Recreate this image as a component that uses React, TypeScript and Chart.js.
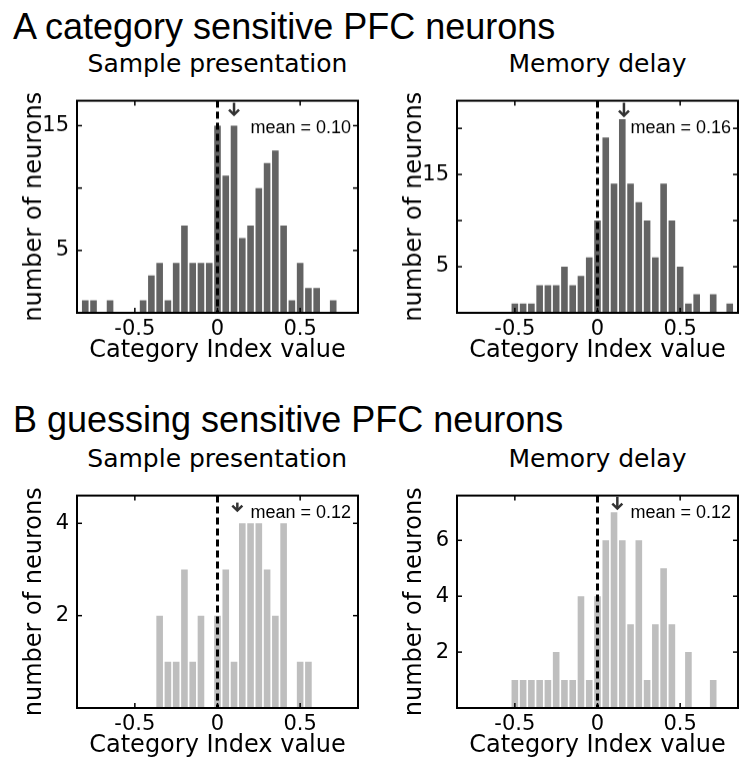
import React, { useEffect, useRef } from "react";
import { Chart, registerables } from "chart.js";

Chart.register(...registerables);

// ---------- data ----------
const binCenters = [
  -0.8, -0.75, -0.7, -0.65, -0.6, -0.55, -0.5, -0.45, -0.4, -0.35, -0.3, -0.25,
  -0.2, -0.15, -0.1, -0.05, 0, 0.05, 0.1, 0.15, 0.2, 0.25, 0.3, 0.35, 0.4, 0.45,
  0.5, 0.55, 0.6, 0.65, 0.7, 0.75, 0.8,
];

const categorySampleCounts = [
  1, 1, 0, 1, 0, 0, 0, 1, 3, 4, 1, 4, 7, 4, 4, 4, 15, 11, 15, 6, 7, 10, 12, 13, 7,
  1, 4, 2, 2, 0, 1, 0, 0,
];
const categoryDelayCounts = [
  0, 0, 0, 0, 0, 0, 1, 1, 1, 3, 3, 3, 5, 3, 4, 6, 10, 19, 14, 21, 14, 12, 10, 6,
  14, 10, 5, 1, 2, 0, 2, 0, 1,
];
const guessingSampleCounts = [
  0, 0, 0, 0, 0, 0, 0, 0, 0, 2, 1, 1, 3, 1, 2, 0, 2, 3, 1, 4, 4, 4, 3, 2, 4, 0, 1,
  1, 0, 0, 0, 0, 0,
];
const guessingDelayCounts = [
  0, 0, 0, 0, 0, 0, 1, 1, 1, 1, 1, 2, 1, 1, 4, 1, 4, 6, 7, 6, 3, 6, 1, 3, 5, 3, 0,
  2, 0, 0, 1, 0, 0,
];

const meanValues = [0.1, 0.16, 0.12, 0.12];

const xTickValues = [-0.5, 0, 0.5];
const categorySampleYTicks = [5, 10, 15];
const categorySampleYLabels = [5, 15];
const categoryDelayYTicks = [5, 10, 15, 20];
const categoryDelayYLabels = [5, 15];
const guessingSampleYTicks = [2, 4];
const guessingSampleYLabels = [2, 4];
const guessingDelayYTicks = [2, 4, 6];
const guessingDelayYLabels = [2, 4, 6];

const yMaxValues = [17, 23, 4.6, 7.6];

const sectionTitles = ["A category sensitive PFC neurons", "B guessing sensitive PFC neurons"];
const panelTitles = ["Sample presentation", "Memory delay"];
const xAxisTitle = "Category Index value";
const yAxisTitle = "number of neurons";

// ---------- styling ----------
const AXIS_FONT = "'DejaVu Sans', 'Liberation Sans', Arial, sans-serif";
const TITLE_FONT = "'Liberation Sans', Arial, sans-serif";
const DARK = "#636363";
const LIGHT = "#bebebe";

type Box = { l: number; r: number; t: number; b: number };

const framePlugin = {
  id: "matlabFrame",
  afterDatasetsDraw(chart: any, _args: any, opts: any) {
    const { ctx, chartArea } = chart;
    const { left, right, top, bottom } = chartArea;
    const xs = chart.scales.x;
    const ys = chart.scales.y;
    const line = (x1: number, y1: number, x2: number, y2: number) => {
      ctx.beginPath();
      ctx.moveTo(x1, y1);
      ctx.lineTo(x2, y2);
      ctx.stroke();
    };
    ctx.save();
    // dashed zero line
    const x0 = xs.getPixelForValue(0);
    ctx.strokeStyle = "#000";
    ctx.lineWidth = 3;
    ctx.setLineDash([7, 4]);
    line(x0, top, x0, bottom);
    ctx.setLineDash([]);
    // box
    ctx.lineWidth = 2;
    ctx.strokeRect(left, top, right - left, bottom - top);
    // inward ticks
    ctx.lineWidth = 1.5;
    xs.ticks.forEach((t: any) => {
      const px = xs.getPixelForValue(t.value);
      line(px, top, px, top + 5);
      line(px, bottom, px, bottom - 5);
    });
    ys.ticks.forEach((t: any) => {
      const py = ys.getPixelForValue(t.value);
      line(left, py, left + 5, py);
      line(right, py, right - 5, py);
    });
    // mean arrow
    const xm = xs.getPixelForValue(opts.mean);
    const a0 = top + opts.arrowStart;
    const a1 = top + opts.arrowEnd;
    ctx.strokeStyle = "#333";
    ctx.lineWidth = 2.5;
    line(xm, a0, xm, a1);
    ctx.beginPath();
    ctx.moveTo(xm - 5, a1 - 5);
    ctx.lineTo(xm, a1);
    ctx.lineTo(xm + 5, a1 - 5);
    ctx.stroke();
    // mean text
    ctx.fillStyle = "#000";
    ctx.font = `18px ${TITLE_FONT}`;
    ctx.textAlign = "right";
    ctx.textBaseline = "alphabetic";
    ctx.fillText(`mean = ${opts.mean.toFixed(2)}`, right - 7, top + opts.textBaseline);
    ctx.restore();
  },
};

type PanelProps = {
  counts: number[];
  color: string;
  yMax: number;
  yTicks: number[];
  yLabels: number[];
  mean: number;
  box: Box;
  textBaseline: number;
  arrowStart: number;
  arrowEnd: number;
};

const Y_AXIS_W = 77;
const X_AXIS_H = 54;
const PAD_TOP = 13;
const PAD_RIGHT = 4;

function HistPanel(p: PanelProps) {
  const ref = useRef<HTMLCanvasElement>(null);
  const cLeft = p.box.l - Y_AXIS_W;
  const cTop = p.box.t - PAD_TOP;
  const width = p.box.r + PAD_RIGHT - cLeft;
  const height = p.box.b + X_AXIS_H - cTop;

  useEffect(() => {
    if (!ref.current) return;
    const chart = new Chart(ref.current, {
      type: "bar",
      data: {
        datasets: [
          {
            data: binCenters.map((x, i) => ({ x, y: p.counts[i] })) as any,
            backgroundColor: p.color,
            borderWidth: 0,
            barPercentage: 0.8,
            categoryPercentage: 1,
          },
        ],
      },
      options: {
        animation: false,
        responsive: false,
        layout: { padding: { top: PAD_TOP, right: PAD_RIGHT, left: 0, bottom: 0 } },
        plugins: {
          legend: { display: false },
          tooltip: { enabled: false },
          matlabFrame: {
            mean: p.mean,
            textBaseline: p.textBaseline,
            arrowStart: p.arrowStart,
            arrowEnd: p.arrowEnd,
          },
        } as any,
        scales: {
          x: {
            type: "linear",
            min: -0.85,
            max: 0.85,
            offset: false,
            grid: { display: false, drawTicks: false },
            border: { display: false },
            afterBuildTicks: (s: any) => {
              s.ticks = xTickValues.map((v) => ({ value: v }));
            },
            afterFit: (s: any) => {
              s.height = X_AXIS_H;
            },
            ticks: {
              autoSkip: false,
              maxRotation: 0,
              padding: 4,
              color: "#000",
              font: { family: AXIS_FONT, size: 21 },
              callback: (v: any) => String(v),
            },
            title: {
              display: true,
              text: xAxisTitle,
              color: "#000",
              font: { family: AXIS_FONT, size: 24 },
              padding: { top: 0, bottom: 2 },
            },
          },
          y: {
            type: "linear",
            min: 0,
            max: p.yMax,
            grid: { display: false, drawTicks: false },
            border: { display: false },
            afterBuildTicks: (s: any) => {
              s.ticks = p.yTicks.map((v) => ({ value: v }));
            },
            afterFit: (s: any) => {
              s.width = Y_AXIS_W;
            },
            ticks: {
              autoSkip: false,
              padding: 8,
              color: "#000",
              font: { family: AXIS_FONT, size: 21 },
              callback: (v: any) => (p.yLabels.includes(Number(v)) ? String(v) : ""),
            },
            title: {
              display: true,
              text: yAxisTitle,
              color: "#000",
              font: { family: AXIS_FONT, size: 24 },
              padding: { top: 20, bottom: 0 },
            },
          },
        },
      },
      plugins: [framePlugin as any],
    });
    return () => chart.destroy();
  }, []);

  return (
    <canvas
      ref={ref}
      width={width}
      height={height}
      style={{ position: "absolute", left: cLeft, top: cTop, width, height }}
    />
  );
}

function TextAt(props: {
  text: string;
  left: number;
  top: number;
  width?: number;
  size: number;
  family: string;
  center?: boolean;
}) {
  return (
    <div
      style={{
        position: "absolute",
        left: props.left,
        top: props.top,
        width: props.width,
        fontFamily: props.family,
        fontSize: props.size,
        lineHeight: `${props.size}px`,
        whiteSpace: "nowrap",
        textAlign: props.center ? "center" : "left",
        color: "#000",
      }}
    >
      {props.text}
    </div>
  );
}

const boxes: Box[] = [
  { l: 77, r: 358, t: 93, b: 312.5 },
  { l: 457, r: 738, t: 93, b: 312.5 },
  { l: 76.5, r: 358, t: 488, b: 708 },
  { l: 457, r: 738, t: 488, b: 708 },
];

export default function App() {
  return (
    <div
      style={{
        position: "absolute",
        left: 0,
        top: 0,
        width: 742,
        height: 762,
        overflow: "hidden",
        background: "#fff",
      }}
    >
      <TextAt text={sectionTitles[0]} left={13} top={8.5} size={36} family={TITLE_FONT} />
      <TextAt text={sectionTitles[1]} left={13} top={401.5} size={36} family={TITLE_FONT} />
      <TextAt text={panelTitles[0]} left={boxes[0].l} width={boxes[0].r - boxes[0].l} top={51} size={25} family={AXIS_FONT} center />
      <TextAt text={panelTitles[1]} left={boxes[1].l} width={boxes[1].r - boxes[1].l} top={51} size={25} family={AXIS_FONT} center />
      <TextAt text={panelTitles[0]} left={boxes[2].l} width={boxes[2].r - boxes[2].l} top={445.5} size={25} family={AXIS_FONT} center />
      <TextAt text={panelTitles[1]} left={boxes[3].l} width={boxes[3].r - boxes[3].l} top={445.5} size={25} family={AXIS_FONT} center />

      <HistPanel
        counts={categorySampleCounts}
        color={DARK}
        yMax={yMaxValues[0]}
        yTicks={categorySampleYTicks}
        yLabels={categorySampleYLabels}
        mean={meanValues[0]}
        box={boxes[0]}
        textBaseline={32}
        arrowStart={2}
        arrowEnd={14}
      />
      <HistPanel
        counts={categoryDelayCounts}
        color={DARK}
        yMax={yMaxValues[1]}
        yTicks={categoryDelayYTicks}
        yLabels={categoryDelayYLabels}
        mean={meanValues[1]}
        box={boxes[1]}
        textBaseline={32}
        arrowStart={2}
        arrowEnd={15}
      />
      <HistPanel
        counts={guessingSampleCounts}
        color={LIGHT}
        yMax={yMaxValues[2]}
        yTicks={guessingSampleYTicks}
        yLabels={guessingSampleYLabels}
        mean={meanValues[2]}
        box={boxes[2]}
        textBaseline={22}
        arrowStart={7}
        arrowEnd={15}
      />
      <HistPanel
        counts={guessingDelayCounts}
        color={LIGHT}
        yMax={yMaxValues[3]}
        yTicks={guessingDelayYTicks}
        yLabels={guessingDelayYLabels}
        mean={meanValues[3]}
        box={boxes[3]}
        textBaseline={22}
        arrowStart={1}
        arrowEnd={13}
      />
    </div>
  );
}
